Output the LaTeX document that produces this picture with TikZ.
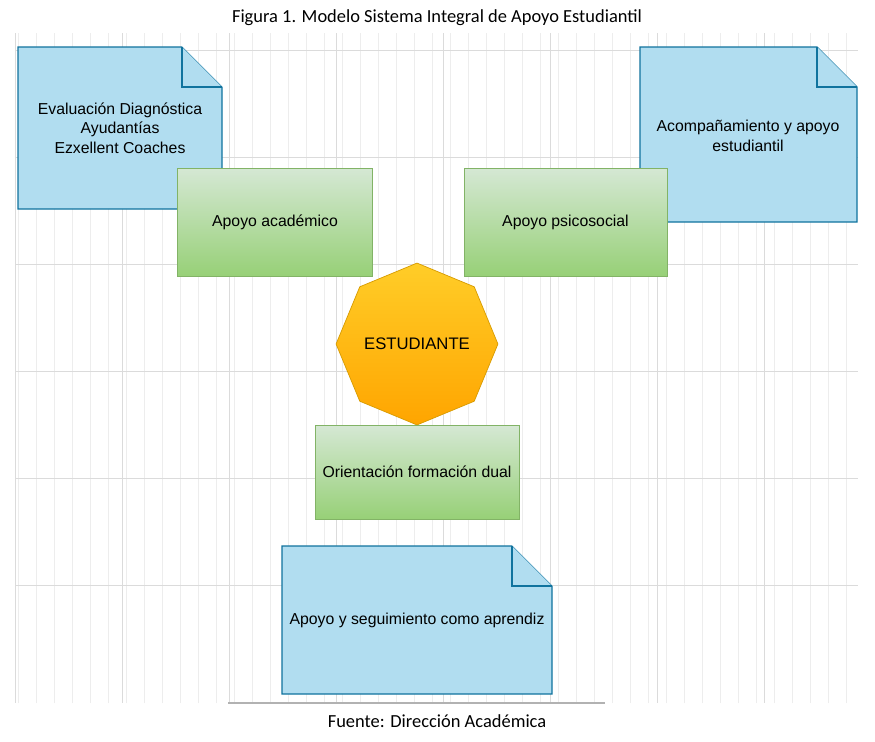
\documentclass[tikz,border=0pt]{standalone}
\usepackage{fontspec}
\setmainfont{Liberation Sans}
\newfontfamily\capfont{Carlito}
\usetikzlibrary{shapes.geometric}
\definecolor{notefill}{HTML}{B1DDF0}
\definecolor{notedraw}{HTML}{10739E}
\definecolor{greentop}{HTML}{D5E8D4}
\definecolor{greenbot}{HTML}{97D077}
\definecolor{greendraw}{HTML}{82B366}
\definecolor{octtop}{HTML}{FFCD28}
\definecolor{octbot}{HTML}{FFA500}
\definecolor{octdraw}{HTML}{D79B00}
\tikzset{
	supportbox/.style={draw=greendraw, top color=greentop, bottom color=greenbot, minimum width=3.9cm, minimum height=2.16cm, font=\fontsize{9}{11}\selectfont},
	notetext/.style={align=center, font=\fontsize{9}{11}\selectfont},
	notefold/.style={draw=notedraw, fill=notefill, line width=0.6pt},
	caption/.style={font=\capfont\fontsize{10.5}{12}\selectfont}
}
\begin{document}
\begin{tikzpicture}[x=0.02cm, y=-0.02cm]
	\useasboundingbox (0,0) rectangle (875,741);
	\fill[white] (0,0) rectangle (875,741);
	
	% Grid
	\draw[black!7, line width=0.3pt] (15,33) grid[step=18] (858,703);
	\foreach \y in {50,157,264,371,478,585}{
		\draw[black!14, line width=0.4pt] (15,\y) -- (858,\y);
	}
	\foreach \x in {15,122,229,336,443,550,657,764}{
		\draw[black!14, line width=0.4pt] (\x,33) -- (\x,703);
	}
	\draw[black!30, line width=0.8pt] (228,703) -- (605,703);
	
	% Notes
	\draw[notefold] (18,47) -- (182,47) -- (222,87) -- (222,209) -- (18,209) -- cycle;
	\draw[notefold] (182,47) -- (182,87) -- (222,87);
	\draw[notefold] (640,47) -- (817,47) -- (857,87) -- (857,222) -- (640,222) -- cycle;
	\draw[notefold] (817,47) -- (817,87) -- (857,87);
	\draw[notefold] (282,546) -- (512,546) -- (552,586) -- (552,694) -- (282,694) -- cycle;
	\draw[notefold] (512,546) -- (512,586) -- (552,586);
	\node[notetext] (note diag) at (120,128) {Evaluación Diagnóstica\\Ayudantías\\Ezxellent Coaches};
	\node[notetext] (note acomp) at (748,136) {Acompañamiento y apoyo\\estudiantil};
	\node[notetext] (note aprendiz) at (417,620) {Apoyo y seguimiento como aprendiz};
	
	% Support areas
	\node[supportbox] (academico) at (275,222) {Apoyo académico};
	\node[supportbox, minimum width=4.06cm] (psicosocial) at (565.5,222) {Apoyo psicosocial};
	\node[supportbox, minimum width=4.08cm, minimum height=1.88cm] (dual) at (417,472) {Orientación formación dual};
	
	% Student
	\node[regular polygon, regular polygon sides=8, shape border rotate=22.5, draw=octdraw, top color=octtop, bottom color=octbot, minimum size=2.97cm, inner sep=0pt, font=\fontsize{9.5}{11}\selectfont] (estudiante) at (417,344) {ESTUDIANTE};
	
	% Captions
	\node[caption] (titulo) at (437,18) {Figura 1. Modelo Sistema Integral de Apoyo Estudiantil};
	\node[caption] (fuente) at (437,721) {Fuente: Dirección Académica};
\end{tikzpicture}
\end{document}
